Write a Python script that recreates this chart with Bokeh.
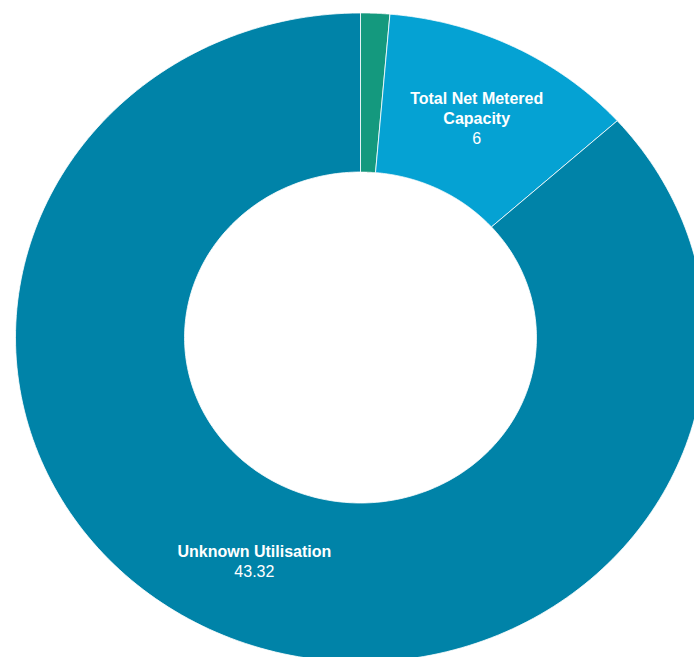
import numpy as np
from bokeh.plotting import figure
from bokeh.models import Range1d, ColumnDataSource
from bokeh.core.properties import value
from bokeh.embed import file_html
from bokeh.resources import INLINE

# ---- data ----
categories = ["Other", "Total Net Metered Capacity", "Unknown Utilisation"]
values = [0.68, 6, 43.32]
value_labels = ["", "6", "43.32"]
label_lines = [[], ["Total Net Metered", "Capacity"], ["Unknown Utilisation"]]
colors = ["#14997E", "#05A2D3", "#0083A8"]

# ---- layout ----
W, H = 694, 657
cx, cy = 360, 337
rx_out, ry_out = 345, 324.5
hole = 0.51

p = figure(width=W, height=H, x_range=Range1d(0, W), y_range=Range1d(H, 0),
           output_backend="svg", toolbar_location=None, min_border=0,
           x_axis_type=None, y_axis_type=None)
p.grid.visible = False
p.outline_line_color = None
p.background_fill_color = "white"
p.border_fill_color = "white"

total = float(sum(values))
xs, ys = [], []
start = 0.0
mids = []
for v in values:
    end = start + v / total * 2 * np.pi
    t = np.linspace(start, end, 240)
    ox = cx + rx_out * np.sin(t)
    oy = cy - ry_out * np.cos(t)
    ix = cx + rx_out * hole * np.sin(t[::-1])
    iy = cy - ry_out * hole * np.cos(t[::-1])
    xs.append(list(np.concatenate([ox, ix])))
    ys.append(list(np.concatenate([oy, iy])))
    mids.append((start + end) / 2)
    start = end

src = ColumnDataSource(dict(xs=xs, ys=ys, color=colors, name=categories))
p.patches("xs", "ys", source=src, fill_color="color", line_color="white",
          line_width=1, line_alpha=0.8)

# ---- labels ----
rmid = (1 + hole) / 2
lh = 19.5
tx, ty, tt, tw = [], [], [], []
for lines, val, m in zip(label_lines, value_labels, mids):
    if not lines:
        continue
    ax = cx + rx_out * rmid * np.sin(m)
    ay = cy - ry_out * rmid * np.cos(m)
    all_lines = lines + [val]
    n = len(all_lines)
    for i, s in enumerate(all_lines):
        tx.append(ax)
        ty.append(ay + (i - (n - 1) / 2) * lh)
        tt.append(s)
        tw.append("bold" if i < len(lines) else "normal")

lsrc = ColumnDataSource(dict(x=tx, y=ty, text=tt, style=tw))
p.text("x", "y", text="text", source=lsrc, text_color="white",
       text_font=value("Liberation Sans"), text_font_size="16px",
       text_font_style="style", text_align="center", text_baseline="middle")

open("out.html", "w").write(file_html(p, INLINE))
